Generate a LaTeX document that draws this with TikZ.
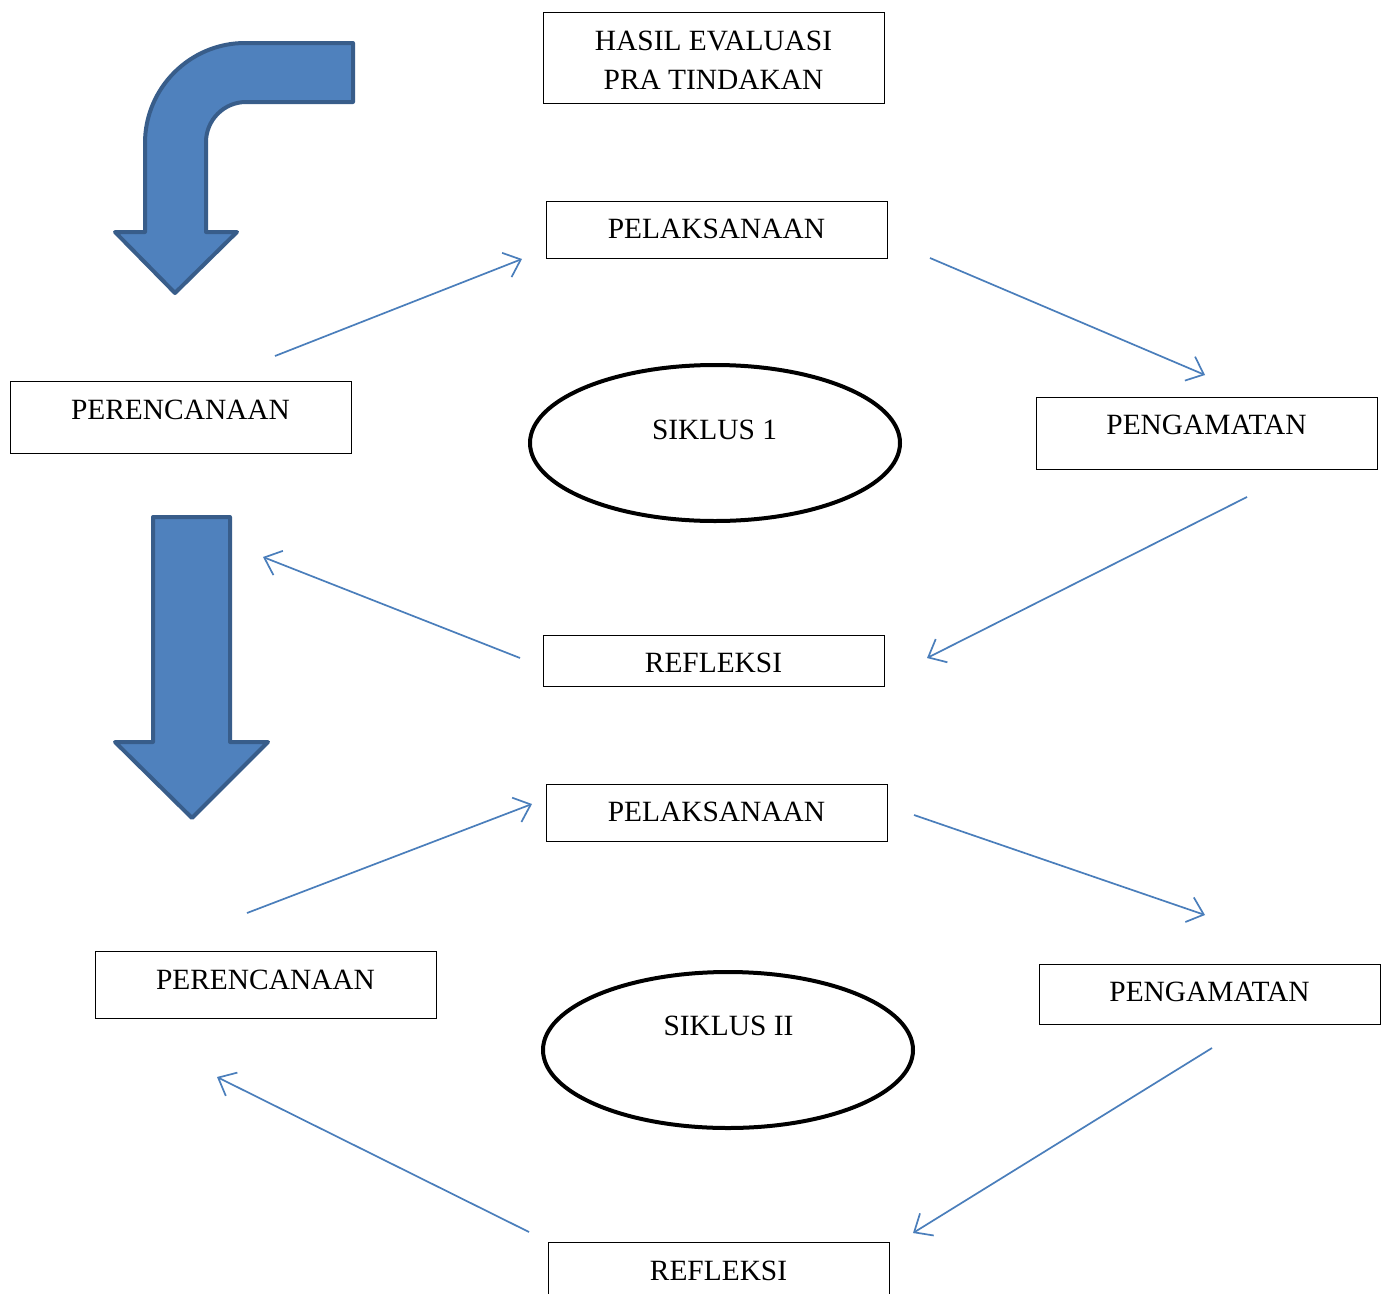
\documentclass[tikz,border=0pt]{standalone}
\usepackage{fontspec}
\setmainfont{Liberation Serif}
\usetikzlibrary{arrows.meta,shapes.geometric}
\definecolor{blockfill}{HTML}{4F81BD}
\definecolor{blockline}{HTML}{385D8A}
\definecolor{flowline}{HTML}{4A7EBB}
\tikzset{
  boxshape/.style={draw=black, line width=1pt, rectangle, minimum width=341pt, inner sep=0pt},
  ringshape/.style={draw=black, line width=4pt, ellipse, minimum width=370pt, minimum height=156pt, inner sep=0pt},
  lbl/.style={font=\fontsize{29.4}{39}\selectfont, anchor=base, inner sep=0pt},
  flow/.style={draw=flowline, line width=1.7pt, -{Straight Barb[length=15pt,width=26pt,line width=1.7pt]}},
  blockarrow/.style={fill=blockfill, draw=blockline, line width=4pt, line join=round}
}
\begin{document}
\begin{tikzpicture}[x=1pt,y=-1pt]
\clip (0,0) rectangle (1384,1293);
\path[use as bounding box] (0,0) rectangle (1384,1293);
\fill[white] (0,0) rectangle (1384,1293);

% block arrows
\draw[blockarrow] (353,43) -- (245,43) .. controls (190,43) and (145,88) .. (145,143)
  -- (145,232) -- (115,232) -- (175,293) -- (237,232) -- (206,232) -- (206,142)
  .. controls (206,120) and (224,102) .. (246,102) -- (353,102) -- cycle;
\draw[blockarrow] (153,517) -- (230,517) -- (230,742) -- (268,742) -- (192,818)
  -- (115,742) -- (153,742) -- cycle;

% boxes
\node[boxshape, minimum height=91pt] (hasil) at (713.5,57.5) {};
\node[lbl, anchor=center, align=center] (hasilT) at (713.5,60) {HASIL EVALUASI\\PRA TINDAKAN};

\node[boxshape, minimum height=57pt] (pel1) at (716.5,229.5) {};
\node[lbl] (pel1T) at (716.5,238) {PELAKSANAAN};
\node[boxshape, minimum height=72pt] (per1) at (180.5,417) {};
\node[lbl] (per1T) at (180.5,419) {PERENCANAAN};
\node[boxshape, minimum height=72pt] (peng1) at (1206.5,433) {};
\node[lbl] (peng1T) at (1206.5,434) {PENGAMATAN};
\node[boxshape, minimum height=51pt] (ref1) at (713.5,660.5) {};
\node[lbl] (ref1T) at (713.5,672) {REFLEKSI};
\node[ringshape] (sik1) at (715,443) {};
\node[lbl] (sik1T) at (714.5,439) {SIKLUS 1};

\node[boxshape, minimum height=57pt] (pel2) at (716.5,812.5) {};
\node[lbl] (pel2T) at (716.5,821) {PELAKSANAAN};
\node[boxshape, minimum height=67pt] (per2) at (265.5,984.5) {};
\node[lbl] (per2T) at (265.5,989) {PERENCANAAN};
\node[boxshape, minimum height=60pt] (peng2) at (1209.5,994) {};
\node[lbl] (peng2T) at (1209.5,1001) {PENGAMATAN};
\node[boxshape, minimum height=72pt] (ref2) at (718.5,1278) {};
\node[lbl] (ref2T) at (718.5,1280) {REFLEKSI};
\node[ringshape] (sik2) at (728,1050) {};
\node[lbl] (sik2T) at (728.5,1035) {SIKLUS II};

% connector ends
\coordinate (a1s) at (275,356);  \coordinate (a1e) at (522,259);
\coordinate (a2s) at (930,258);  \coordinate (a2e) at (1205,375);
\coordinate (a3s) at (1247,497); \coordinate (a3e) at (927,658);
\coordinate (a4s) at (520,658);  \coordinate (a4e) at (263,557);
\coordinate (b1s) at (247,913);  \coordinate (b1e) at (532,804);
\coordinate (b2s) at (914,815);  \coordinate (b2e) at (1205,915);
\coordinate (b3s) at (1212,1048); \coordinate (b3e) at (913,1233);
\coordinate (b4s) at (529,1232); \coordinate (b4e) at (217,1077);

\draw[flow] (a1s) -- (a1e);
\draw[flow] (a2s) -- (a2e);
\draw[flow] (a3s) -- (a3e);
\draw[flow] (a4s) -- (a4e);
\draw[flow] (b1s) -- (b1e);
\draw[flow] (b2s) -- (b2e);
\draw[flow] (b3s) -- (b3e);
\draw[flow] (b4s) -- (b4e);
\end{tikzpicture}
\end{document}
